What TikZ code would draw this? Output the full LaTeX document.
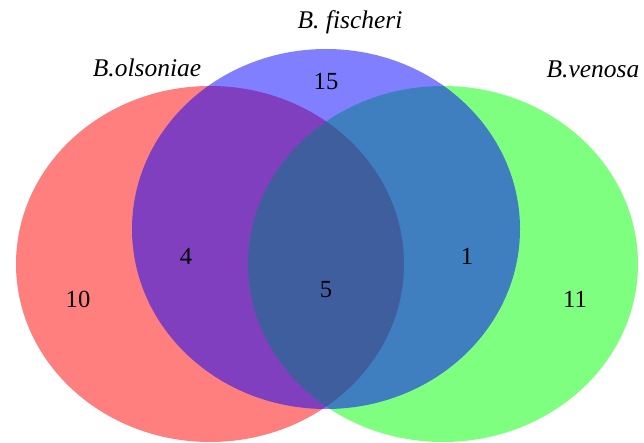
\documentclass[tikz,border=0pt]{standalone}
\usepackage{fontspec}
\setmainfont{Liberation Serif}

\begin{document}
\begin{tikzpicture}[x=0.02cm, y=-0.02cm,
	setfill/.style={fill=#1, fill opacity=0.5},
	numlabel/.style={anchor=base, font=\fontsize{14}{16}\selectfont},
	setname/.style={anchor=base, font=\fontsize{14.5}{17}\selectfont\itshape}]
\useasboundingbox (0,0) rectangle (644,442);

\coordinate (R0) at (210,264);
\coordinate (G0) at (443,264);
\coordinate (B0) at (326,229);

\fill[setfill=red] (R0) ellipse [x radius=194, y radius=178];
\fill[setfill=green] (G0) ellipse [x radius=195, y radius=178];
\fill[setfill=blue] (B0) ellipse [x radius=194, y radius=180];

\node[setname] (olsoniae) at (147,77) {B.olsoniae};
\node[setname] (fischeri) at (350,29) {B. fischeri};
\node[setname] (venosa) at (593,78) {B.venosa};

\node[numlabel] (nB) at (326,90) {15};
\node[numlabel] (nRB) at (186,264) {4};
\node[numlabel] (nGB) at (467,264) {1};
\node[numlabel] (nRGB) at (326,297) {5};
\node[numlabel] (nR) at (78,307) {10};
\node[numlabel] (nG) at (575,307) {11};
\end{tikzpicture}
\end{document}
